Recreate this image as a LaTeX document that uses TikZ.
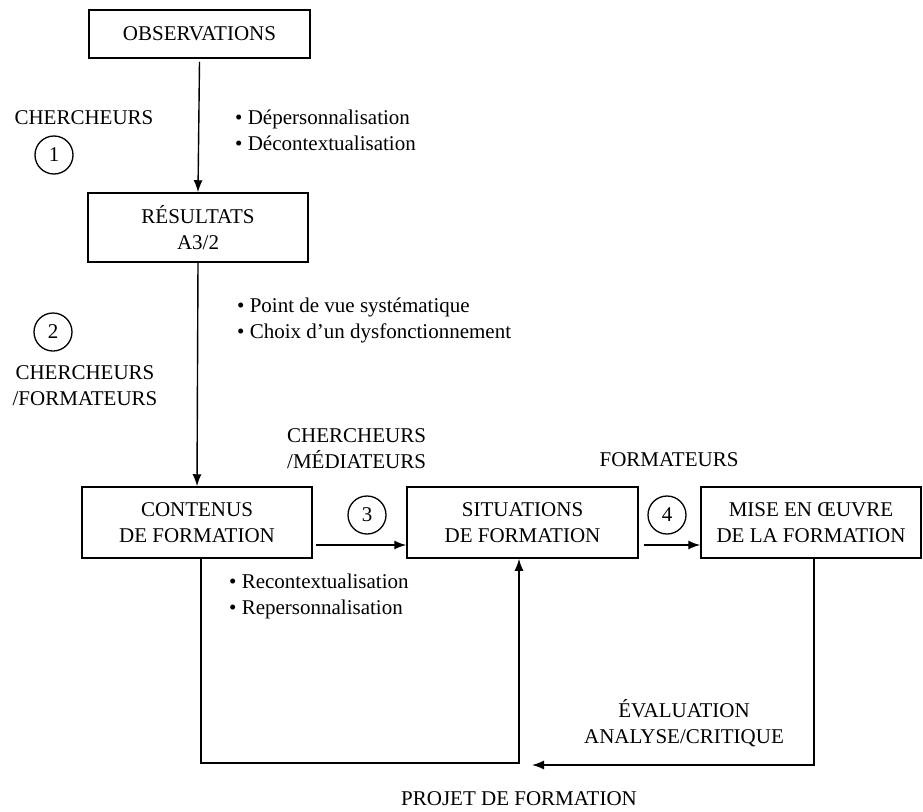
\documentclass[tikz,border=0pt]{standalone}
\usepackage{fontspec}
\setmainfont{Liberation Serif}
\usetikzlibrary{arrows.meta}
\begin{document}
\begin{tikzpicture}[x=1pt,y=-1pt,
  every node/.style={font=\fontsize{21}{26}\selectfont, inner sep=0pt},
  box/.style={draw, line width=1.5pt, align=center, minimum height=71pt},
  num/.style={draw, circle, line width=1.3pt, minimum size=38pt},
  lbl/.style={align=center},
  bul/.style={align=left, anchor=west},
  conn/.style={line width=1.4pt},
  arr/.style={conn, -{Latex[length=12pt,width=9pt]}}]
\useasboundingbox (0,0) rectangle (923,811);
% boxes
\node[box, minimum width=221pt, minimum height=48pt] (obs) at (199.5,34) {OBSERVATIONS};
\node[box, minimum width=220pt, minimum height=69pt] (res) at (198,227.5) {RÉSULTATS\\A3/2};
\node[box, minimum width=230pt] (cont) at (197,522.5) {CONTENUS\\DE FORMATION};
\node[box, minimum width=231pt] (sit) at (522.5,522.5) {SITUATIONS\\DE FORMATION};
\node[box, minimum width=220pt] (mise) at (811,522.5) {MISE EN ŒUVRE\\DE LA FORMATION};
% labels
\node[lbl] (ch1) at (84,118) {CHERCHEURS};
\node[num] (n1) at (54,155) {1};
\node[bul] (b1) at (235,130.5) {\textbullet\ Dépersonnalisation\\\textbullet\ Décontextualisation};
\node[num] (n2) at (53,332) {2};
\node[lbl] (ch2) at (85,386) {CHERCHEURS\\/FORMATEURS};
\node[bul] (b2) at (237,320) {\textbullet\ Point de vue systématique\\\textbullet\ Choix d’un dysfonctionnement};
\node[align=left, anchor=west] (ch3) at (287,448.5) {CHERCHEURS\\/MÉDIATEURS};
\node[lbl] (fo) at (669,460) {FORMATEURS};
\node[num] (n3) at (367,515) {3};
\node[num] (n4) at (667,515) {4};
\node[bul] (b3) at (229,596.5) {\textbullet\ Recontextualisation\\\textbullet\ Repersonnalisation};
\node[lbl] (ev) at (684,723) {ÉVALUATION\\ANALYSE/CRITIQUE};
\node[lbl] (pr) at (519,799) {PROJET DE FORMATION};
% connectors
\draw[arr] ([yshift=-3pt]obs.south) -- (res.north);
\draw[arr] (res.south) -- (cont.north);
\draw[arr] ([xshift=3pt,yshift=-22.5pt]cont.east) -- ([yshift=-22.5pt]sit.west);
\draw[arr] ([xshift=5pt,yshift=-22.5pt]sit.east) -- ([yshift=-22.5pt]mise.west);
\coordinate (c1) at (201,763);
\coordinate (c2) at (519,763);
\coordinate (c3) at (814,765);
\coordinate (c4) at (532,765);
\draw[arr] ([xshift=4pt]cont.south) -- (c1) -- (c2) -- ([xshift=-3.5pt]sit.south);
\draw[arr] ([xshift=3pt]mise.south) -- (c3) -- (c4);
\end{tikzpicture}
\end{document}
